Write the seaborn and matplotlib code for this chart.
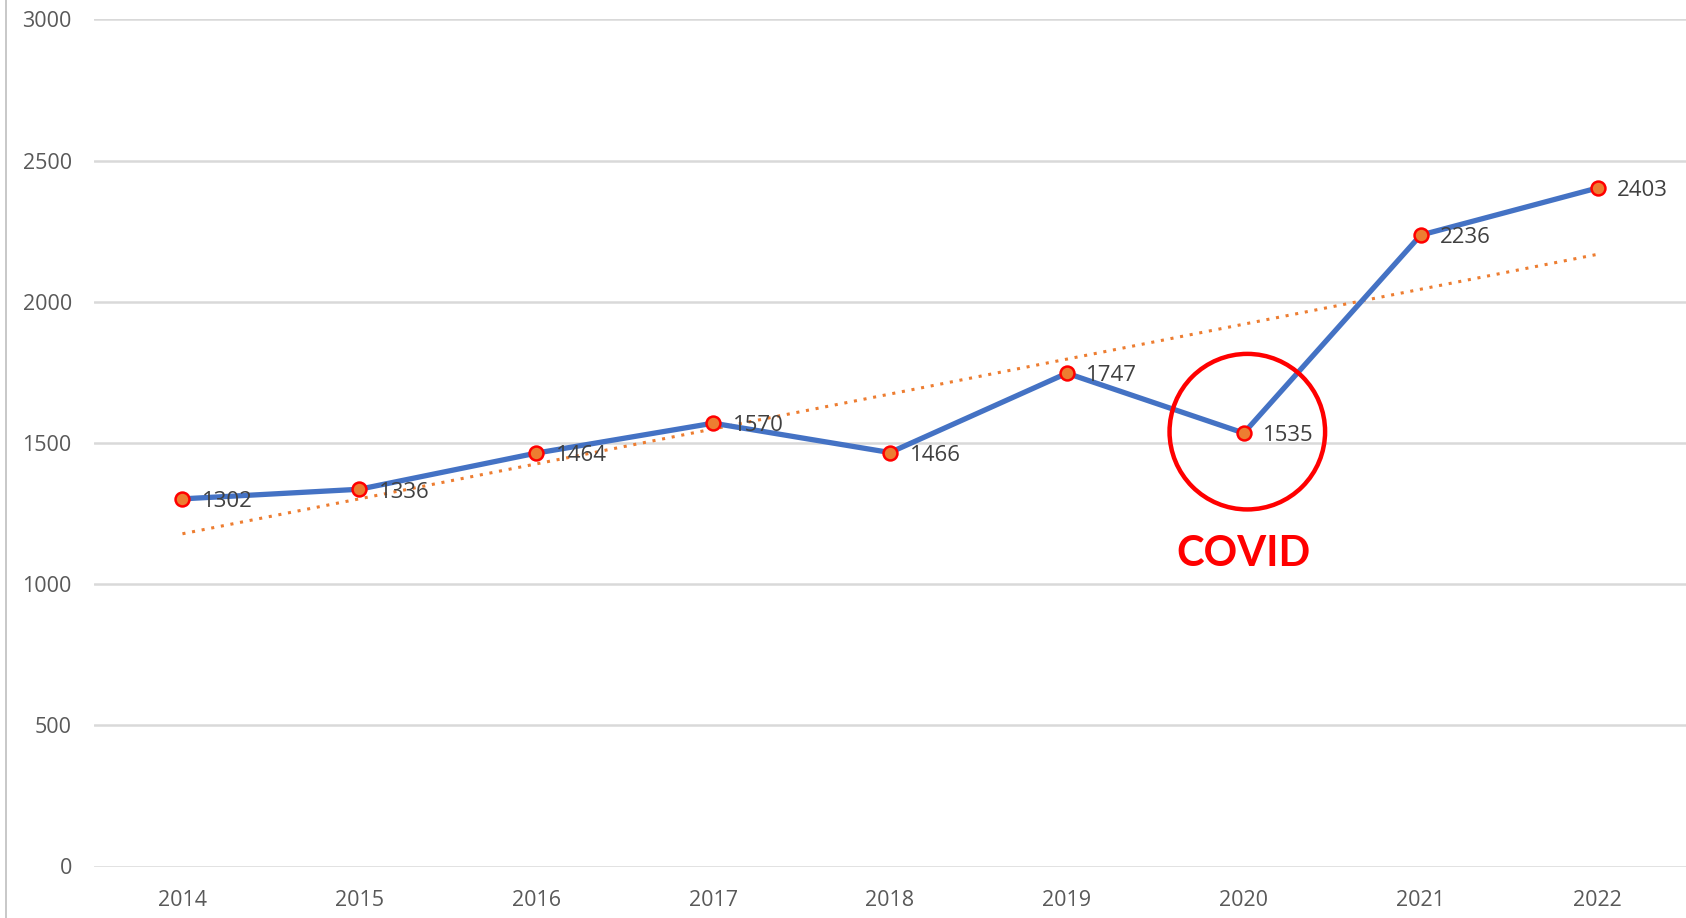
import numpy as np
import pandas as pd
import matplotlib
matplotlib.use("Agg")
import matplotlib.pyplot as plt
from matplotlib.lines import Line2D
import seaborn as sns

years = ["2014", "2015", "2016", "2017", "2018", "2019", "2020", "2021", "2022"]
counts = [1302, 1336, 1464, 1570, 1466, 1747, 1535, 2236, 2403]
y_ticks = [0, 500, 1000, 1500, 2000, 2500, 3000]
highlight_year = "2020"
highlight_text = "COVID"

sns.set_theme(style="white")
plt.rcParams["font.family"] = ["Open Sans", "DejaVu Sans"]

df = pd.DataFrame({"year": years, "count": counts})
df["pos"] = np.arange(len(df))

fig = plt.figure(figsize=(16.86, 9.18), dpi=100)
ax = fig.add_axes([94 / 1686, 51.5 / 918, 1 - 94 / 1686, (866.5 - 19.4) / 918])

# linear trend across the series (dotted orange)
slope, intercept = np.polyfit(df["pos"], df["count"], 1)
trend = intercept + slope * df["pos"]
ax.plot(df["pos"], trend, color="#ED7D31", linestyle=(0, (1, 2.2)),
        linewidth=2.2, zorder=2)

sns.lineplot(data=df, x="pos", y="count", ax=ax, color="#4472C4",
             linewidth=3.8, zorder=3, marker="o", markersize=10,
             markerfacecolor="#ED7D31", markeredgecolor="#FF0000",
             markeredgewidth=1.8)

for p, v in zip(df["pos"], df["count"]):
    ax.annotate(str(v), (p, v), xytext=(14, -2), textcoords="offset points",
                ha="left", va="center", fontsize=16, color="#404040", zorder=4)

# highlight ring and caption
hi = years.index(highlight_year)
ax.scatter([hi + 0.02], [counts[hi] + 5], s=112 ** 2, facecolors="none",
           edgecolors="#FF0000", linewidths=3.2, zorder=5)
ax.annotate(highlight_text, (hi, counts[hi]), xytext=(0, -87),
            textcoords="offset points", ha="center", va="center",
            fontsize=30, fontweight="bold", color="#FF0000",
            family=["Lato", "DejaVu Sans"])

ax.set_xlim(-0.5, len(years) - 0.5)
ax.set_ylim(0, 3000)
ax.set_xticks(df["pos"])
ax.set_xticklabels(years)
ax.set_yticks(y_ticks)
ax.tick_params(axis="both", length=0, labelsize=15.5, labelcolor="#595959")
ax.tick_params(axis="y", pad=16)
ax.tick_params(axis="x", pad=17)
ax.grid(axis="y", color="#D9D9D9", linewidth=1.8)
ax.set_axisbelow(True)
ax.set_xlabel("")
ax.set_ylabel("")
for s in ax.spines.values():
    s.set_visible(False)

fig.add_artist(Line2D([5.5 / 1686, 5.5 / 1686], [0, 1], color="#BFBFBF",
                      linewidth=1.2, transform=fig.transFigure))

fig.savefig("out.png", dpi=100)
